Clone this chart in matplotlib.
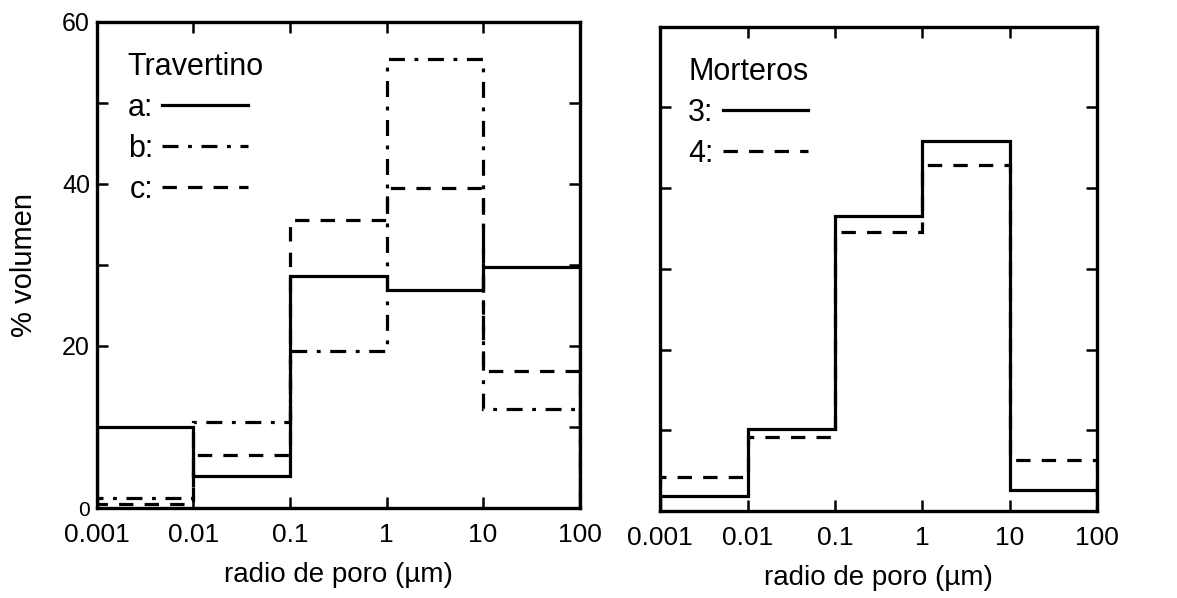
import matplotlib.pyplot as plt
from matplotlib.ticker import NullLocator

plt.rcParams['font.family'] = ['Liberation Sans', 'DejaVu Sans']

# bordes de clase (radio de poro, um)
bordes = [0.001, 0.01, 0.1, 1, 10, 100]
xticklabels = ['0.001', '0.01', '0.1', '1', '10', '100']
yticks = [0, 10, 20, 30, 40, 50, 60]
yticklabels = ['0', '', '20', '', '40', '', '60']

# Travertino
trav_a = [10.0, 3.9, 28.6, 26.9, 29.8]
trav_b = [1.2, 10.6, 19.4, 55.4, 12.2]
trav_c = [0.5, 6.5, 35.6, 39.5, 16.9]

# Morteros
mort_3 = [1.8, 10.1, 36.5, 45.8, 2.6]
mort_4 = [4.2, 9.2, 34.6, 42.8, 6.3]

estilo_b = (0, (5, 3, 1.2, 3))
estilo_c = (0, (4.5, 3.5))

fig = plt.figure(figsize=(11.77, 5.98), dpi=100)
ax1 = fig.add_axes([0.0824, 0.1505, 0.410, 0.813])
ax2 = fig.add_axes([0.561, 0.1455, 0.371, 0.810])


def preparar(ax, etiquetas_y):
    ax.set_xscale('log')
    ax.set_xlim(bordes[0], bordes[-1])
    ax.set_ylim(0, 60)
    ax.set_xticks(bordes)
    ax.set_xticklabels(xticklabels)
    ax.xaxis.set_minor_locator(NullLocator())
    ax.set_yticks(yticks)
    if etiquetas_y:
        ax.set_yticklabels(yticklabels)
    else:
        ax.set_yticklabels([])
    ax.tick_params(which='both', direction='in', top=True, right=True,
                   length=8, width=1.8, color='black')
    ax.tick_params(axis='x', pad=10.5, labelsize=19)
    ax.tick_params(axis='y', pad=5, labelsize=18)
    for s in ax.spines.values():
        s.set_linewidth(2.4)
    ax.set_xlabel('radio de poro (\u00b5m)', fontsize=20, labelpad=11)


preparar(ax1, True)
preparar(ax2, False)
ax1.get_yticklabels()[0].set_fontsize(15)

la = ax1.stairs(trav_a, bordes, color='black', lw=2.3, linestyle='-')
lb = ax1.stairs(trav_b, bordes, color='black', lw=2.3, linestyle=estilo_b)
lc = ax1.stairs(trav_c, bordes, color='black', lw=2.3, linestyle=estilo_c)
ax1.set_ylabel('% volumen', fontsize=21, labelpad=17)

l3 = ax2.stairs(mort_3, bordes, color='black', lw=2.3, linestyle='-')
l4 = ax2.stairs(mort_4, bordes, color='black', lw=2.3, linestyle=estilo_c)

leg_kw = dict(loc='upper left', frameon=False, markerfirst=False,
              alignment='left', fontsize=22, title_fontsize=22,
              handlelength=2.8, handletextpad=0.3, labelspacing=0.35,
              borderaxespad=0, borderpad=0, bbox_to_anchor=(0.064, 0.937))
ax1.legend([la, lb, lc], ['a:', 'b:', 'c:'], title='Travertino', **leg_kw)
ax2.legend([l3, l4], ['3:', '4:'], title='Morteros', **leg_kw)

fig.savefig('out.png', dpi=100)
